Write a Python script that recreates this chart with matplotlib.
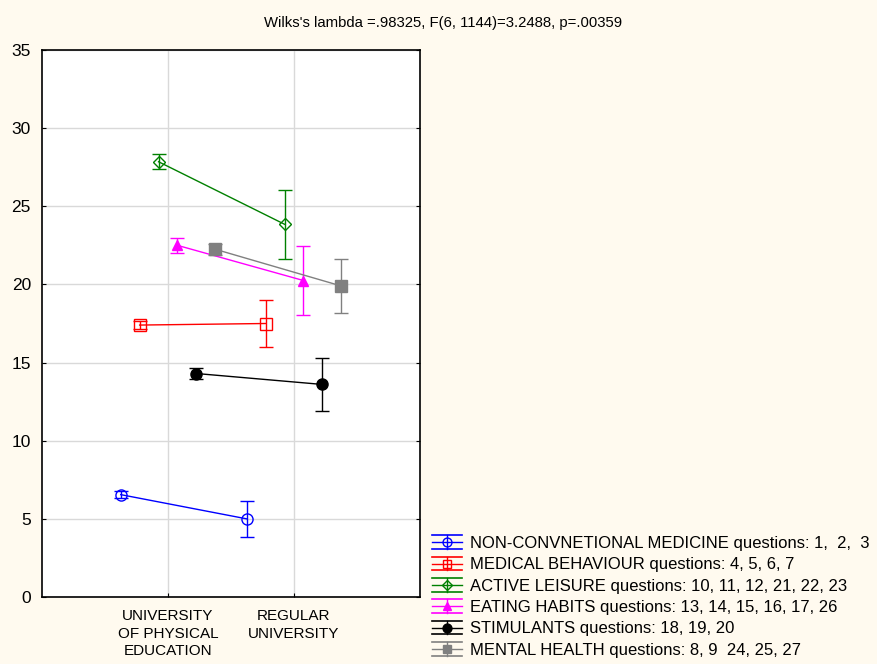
import matplotlib
matplotlib.use("Agg")
import matplotlib.pyplot as plt
from matplotlib.lines import Line2D
from matplotlib.legend_handler import HandlerBase
import numpy as np

plt.rcParams['font.family'] = ['Liberation Sans', 'DejaVu Sans']

categories = ["UNIVERSITY\nOF PHYSICAL\nEDUCATION", "REGULAR\nUNIVERSITY"]
series_names = [
    "NON-CONVNETIONAL MEDICINE questions: 1,  2,  3",
    "MEDICAL BEHAVIOUR questions: 4, 5, 6, 7",
    "ACTIVE LEISURE questions: 10, 11, 12, 21, 22, 23",
    "EATING HABITS questions: 13, 14, 15, 16, 17, 26",
    "STIMULANTS questions: 18, 19, 20",
    "MENTAL HEALTH questions: 8, 9  24, 25, 27",
]
means_upe = [6.55, 17.4, 27.85, 22.5, 14.3, 22.25]
means_ru = [5.0, 17.5, 23.85, 20.25, 13.6, 19.9]
err_upe = [0.24, 0.28, 0.48, 0.47, 0.37, 0.35]
err_ru = [1.13, 1.53, 2.2, 2.23, 1.7, 1.7]
title = "Wilks's lambda =.98325, F(6, 1144)=3.2488, p=.00359"

colors = ['#0000ff', '#ff0000', '#008000', '#ff00ff', '#000000', '#808080']
markers = ['o', 's', 'D', '^', 'o', 's']
mfaces = ['none', 'none', 'none', '#ff00ff', '#000000', '#808080']
msizes = [8, 8, 6, 7, 8, 8]

bg = '#fffaef'
fig = plt.figure(figsize=(8.77, 6.64), dpi=100, facecolor=bg)
ax = fig.add_axes([42/877, 1-597/664, (420-42)/877, (597-50)/664])
ax.set_facecolor('white')

base = np.array([1.0, 2.0])
step = 0.15
for i in range(len(series_names)):
    off = (i - 2.5) * step
    ax.errorbar(base + off, [means_upe[i], means_ru[i]],
                yerr=[err_upe[i], err_ru[i]],
                color=colors[i], marker=markers[i], mfc=mfaces[i],
                mec=colors[i], ms=msizes[i], lw=1.0, elinewidth=1.0,
                capsize=5, capthick=1.0, zorder=3)

ax.set_xlim(0, 3)
ax.set_ylim(0, 35)
ax.set_yticks(np.arange(0, 36, 5))
ax.set_xticks(base)
ax.set_xticklabels(categories, fontsize=11, linespacing=1.3)
ax.tick_params(axis='y', labelsize=12.5, direction='in', length=3, right=True, pad=8)
ax.tick_params(axis='x', direction='in', length=3, pad=9)
ax.grid(True, color='#d9d9d9', lw=1.0, zorder=0)
ax.set_axisbelow(True)
for s in ax.spines.values():
    s.set_linewidth(1.2)

fig.text(443/877, 1-23/664, title, ha='center', va='center', fontsize=10.7)


class ErrHandler(HandlerBase):
    def __init__(self, color, marker, mfc, ms):
        super().__init__()
        self.c, self.m, self.mfc, self.ms = color, marker, mfc, ms

    def create_artists(self, legend, orig_handle, xdescent, ydescent,
                       width, height, fontsize, trans):
        cy = height / 2 - ydescent
        h = 5
        x0, x1 = -xdescent, width - xdescent
        xm = (x0 + x1) / 2
        arts = [
            Line2D([x0, x1], [cy + h, cy + h], color=self.c, lw=1.2),
            Line2D([x0, x1], [cy - h, cy - h], color=self.c, lw=1.2),
            Line2D([x0, x1], [cy, cy], color=self.c, lw=1.0),
            Line2D([xm, xm], [cy - h, cy + h], color=self.c, lw=1.0),
            Line2D([xm], [cy], color=self.c, marker=self.m,
                   mfc=self.mfc, mec=self.c, ms=self.ms * 0.8, lw=0),
        ]
        for a in arts:
            a.set_transform(trans)
        return arts


proxies = [Line2D([], [], color=c) for c in colors]
handler_map = {proxies[i]: ErrHandler(colors[i], markers[i], mfaces[i], msizes[i])
               for i in range(len(colors))}
fig.legend(proxies, series_names, handler_map=handler_map,
           loc='upper left', bbox_to_anchor=(432/877, 1-536/664),
           frameon=False, fontsize=12.0, handlelength=1.8, handletextpad=0.5,
           labelspacing=0.38, borderaxespad=0, borderpad=0)

fig.savefig('out.png', dpi=100, facecolor=bg)
